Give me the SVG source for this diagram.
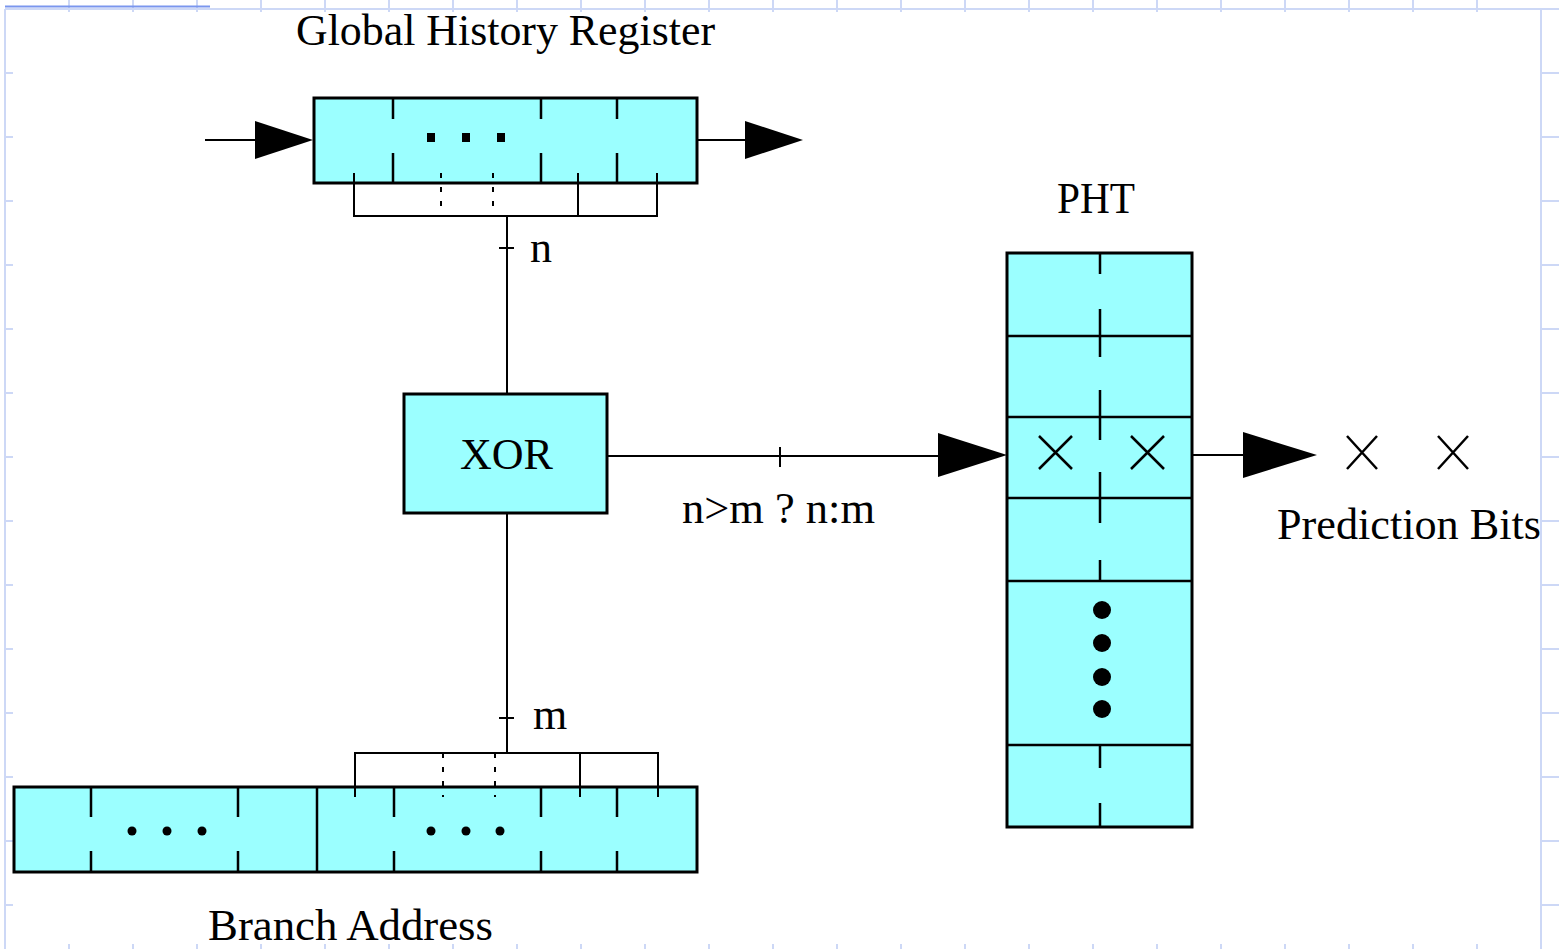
<svg xmlns="http://www.w3.org/2000/svg" width="1559" height="949" viewBox="0 0 1559 949">
<style>
.grid{stroke:#cdd8f6;stroke-width:2;fill:none}
.gridDark{stroke:#7a96ee;stroke-width:2;fill:none}
.box{fill:#9bffff;stroke:#000;stroke-width:3}
.tick{stroke:#000;stroke-width:2.5;fill:none}
.line{stroke:#000;stroke-width:2;fill:none}
.dot{stroke:#000;stroke-width:2;fill:none;stroke-dasharray:5 9}
.head{fill:#000;stroke:none}
.lbl{font-family:"Liberation Serif","Times New Roman",serif;font-size:44px;fill:#000}
.mono{font-family:"Liberation Serif","Times New Roman",serif;font-size:44px;fill:#000}
.xm{stroke:#000;stroke-width:2.5;fill:none}
</style>
<rect width="1559" height="949" fill="#fff"/>
<g id="grid">
<path class="grid" d="M5 9H1559M5 9V949M1541 9V949"/>
<path class="grid" d="M69 0v12M133 0v12M197 0v12M261 0v12M325 0v12M389 0v12M453 0v12M517 0v12M581 0v12M645 0v12M709 0v12M773 0v12M837 0v12M901 0v12M965 0v12M1029 0v12M1093 0v12M1157 0v12M1221 0v12M1285 0v12M1349 0v12M1413 0v12M1477 0v12"/>
<path class="grid" d="M69 944v5M133 944v5M197 944v5M261 944v5M325 944v5M389 944v5M453 944v5M517 944v5M581 944v5M645 944v5M709 944v5M773 944v5M837 944v5M901 944v5M965 944v5M1029 944v5M1093 944v5M1157 944v5M1221 944v5M1285 944v5M1349 944v5M1413 944v5M1477 944v5"/>
<path class="grid" d="M5 73h8M5 137h8M5 201h8M5 265h8M5 329h8M5 393h8M5 457h8M5 521h8M5 585h8M5 649h8M5 713h8M5 777h8M5 841h8M5 905h8"/>
<path class="grid" d="M1541 73h18M1541 137h18M1541 201h18M1541 265h18M1541 329h18M1541 393h18M1541 457h18M1541 521h18M1541 585h18M1541 649h18M1541 713h18M1541 777h18M1541 841h18M1541 905h18"/>
<path class="gridDark" d="M5 6.5H210"/>
</g>
<g id="ghr">
<rect class="box" x="314" y="98" width="383" height="85"/>
<path class="tick" d="M393 98v21M541 98v21M617 98v21M393 153v30M541 153v30M617 153v30"/>
<rect x="427" y="133" width="8" height="9" fill="#000"/>
<rect x="462" y="133" width="8" height="9" fill="#000"/>
<rect x="497" y="133" width="8" height="9" fill="#000"/>
<text class="lbl" x="296" y="45" textLength="419" lengthAdjust="spacingAndGlyphs">Global History Register</text>
</g>
<g id="xor">
<rect class="box" x="404" y="394" width="203" height="119"/>
<text class="mono" x="460" y="469" textLength="93" lengthAdjust="spacingAndGlyphs">XOR</text>
</g>
<g id="pht">
<rect class="box" x="1007" y="253" width="185" height="574"/>
<path class="line" style="stroke-width:2.5" d="M1007 336H1192M1007 417H1192M1007 498H1192M1007 581H1192M1007 745H1192"/>
<path class="tick" d="M1100 253v21M1100 309v48M1100 390v50M1100 472v51M1100 560v21M1100 745v23M1100 803v24"/>
<circle cx="1102" cy="610" r="9"/>
<circle cx="1102" cy="643" r="9"/>
<circle cx="1102" cy="677" r="9"/>
<circle cx="1102" cy="709" r="9"/>
<path class="xm" d="M1039 436l33 33M1072 436l-33 33M1131 436l33 33M1164 436l-33 33"/>
<text class="lbl" x="1057" y="213" textLength="78" lengthAdjust="spacingAndGlyphs">PHT</text>
</g>
<g id="branch">
<rect class="box" x="14" y="787" width="683" height="85"/>
<path class="line" style="stroke-width:2.5" d="M317 787V872"/>
<path class="tick" d="M91 787v30M238 787v30M394 787v30M541 787v30M617 787v30M91 851v21M238 851v21M394 851v21M541 851v21M617 851v21"/>
<circle cx="132" cy="831" r="4.5"/>
<circle cx="167" cy="831" r="4.5"/>
<circle cx="202" cy="831" r="4.5"/>
<circle cx="431" cy="831" r="4.5"/>
<circle cx="466" cy="831" r="4.5"/>
<circle cx="500" cy="831" r="4.5"/>
<text class="lbl" x="208" y="940" textLength="285" lengthAdjust="spacingAndGlyphs">Branch Address</text>
</g>
<g id="output">
<path class="xm" d="M1347 436l30 33M1377 436l-30 33M1438 436l30 33M1468 436l-30 33"/>
<text class="lbl" x="1277" y="539" textLength="264" lengthAdjust="spacingAndGlyphs">Prediction Bits</text>
</g>
<g id="connectors">
<path class="line" d="M205 140H256M697 140H746"/>
<polygon class="head" points="255,121 313,140 255,159"/>
<polygon class="head" points="745,121 803,140 745,159"/>
<path class="line" d="M354 173V216H657V173M578 173V216"/>
<path class="dot" d="M441 173V216M493 173V216"/>
<path class="line" d="M507 216V394M499 248H514"/>
<text class="lbl" x="530" y="262">n</text>
<path class="line" d="M607 456H940M780 447V467"/>
<polygon class="head" points="938,433 1007,455 938,477"/>
<text class="lbl" x="682" y="523" textLength="193" lengthAdjust="spacingAndGlyphs">n&gt;m ? n:m</text>
<path class="line" d="M1192 455H1245"/>
<polygon class="head" points="1243,432 1317,455 1243,478"/>
<path class="line" d="M507 513V753M499 718H514"/>
<text class="lbl" x="533" y="729">m</text>
<path class="line" d="M355 797V753H658V797M580 753V797"/>
<path class="dot" d="M443 753V797M495 753V797"/>
</g>
</svg>
